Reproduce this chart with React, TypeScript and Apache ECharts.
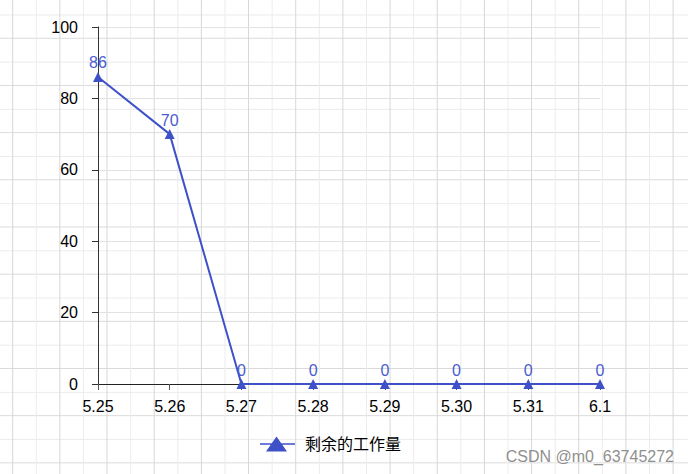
import React, { useEffect, useRef } from "react";
import * as echarts from "echarts";

const categories = ["5.25", "5.26", "5.27", "5.28", "5.29", "5.30", "5.31", "6.1"];
const remaining = [86, 70, 0, 0, 0, 0, 0, 0];
const seriesName = "剩余的工作量";
const watermark = "CSDN @m0_63745272";

const LINE_COLOR = "#3f51c8";
const FONT = "'Liberation Sans', 'Noto Sans CJK SC', sans-serif";

export default function App() {
  const ref = useRef<HTMLDivElement>(null);

  useEffect(() => {
    document.body.style.margin = "0";
    const chart = echarts.init(ref.current!, undefined, { renderer: "svg" });
    chart.setOption({
      animation: false,
      textStyle: { fontFamily: FONT },
      grid: { left: 98, right: 88, top: 27, bottom: 90, containLabel: false },
      legend: {
        left: 255,
        top: 431,
        itemWidth: 35,
        itemHeight: 15,
        itemGap: 10,
        textStyle: { fontSize: 16, color: "#000", fontFamily: FONT, padding: [0, 0, 0, 5] },
        data: [
          {
            name: seriesName,
            icon: "path://M0,6.8 L35,6.8 L35,8.3 L0,8.3 Z M16.5,0 L27,15 L6,15 Z",
          },
        ],
      },
      xAxis: {
        type: "category",
        data: categories,
        boundaryGap: false,
        axisLine: { show: true, lineStyle: { color: "#222", width: 1 } },
        axisTick: { show: true, length: 6, alignWithLabel: true, lineStyle: { color: "#555" } },
        axisLabel: { color: "#000", fontSize: 16, margin: 14, fontFamily: FONT },
        splitLine: { show: false },
      },
      yAxis: {
        type: "value",
        min: 0,
        max: 100,
        interval: 20,
        axisLine: { show: true, lineStyle: { color: "#333", width: 1 } },
        axisTick: { show: true, length: 6, lineStyle: { color: "#333" } },
        axisLabel: { color: "#000", fontSize: 16, margin: 20, fontFamily: FONT },
        splitLine: { show: true, lineStyle: { color: "#e2e2e2", width: 1 } },
      },
      series: [
        {
          name: seriesName,
          type: "line",
          data: remaining,
          symbol: "triangle",
          symbolSize: 10,
          lineStyle: { color: LINE_COLOR, width: 2 },
          itemStyle: { color: LINE_COLOR },
          label: {
            show: true,
            position: "top",
            distance: 1,
            color: "#4a5ccf",
            fontSize: 16,
            fontFamily: FONT,
          },
        },
      ],
      graphic: [
        {
          type: "text",
          right: 14,
          top: 448,
          style: { text: watermark, fill: "#8f8f8f", fontSize: 16, fontFamily: FONT },
        },
      ],
    });
    return () => chart.dispose();
  }, []);

  const bg = {
    position: "fixed" as const,
    left: 0,
    top: 0,
    width: 688,
    height: 474,
    backgroundColor: "#fff",
    backgroundImage: [
      "linear-gradient(to right, #d6d6d6 0, #d6d6d6 1px, transparent 1px)",
      "linear-gradient(to right, #ececec 0, #ececec 1px, transparent 1px)",
      "linear-gradient(to bottom, #dadada 0, #dadada 1px, transparent 1px)",
      "linear-gradient(to bottom, #ebebeb 0, #ebebeb 1px, transparent 1px)",
    ].join(","),
    backgroundSize: "47.18px 100%, 47.18px 100%, 100% 47.18px, 100% 47.18px",
    backgroundPosition: "12.2px 0, 35.8px 0, 0 37.8px, 0 14.5px",
  };

  return (
    <div style={bg}>
      <div ref={ref} style={{ width: 688, height: 474 }} />
    </div>
  );
}
